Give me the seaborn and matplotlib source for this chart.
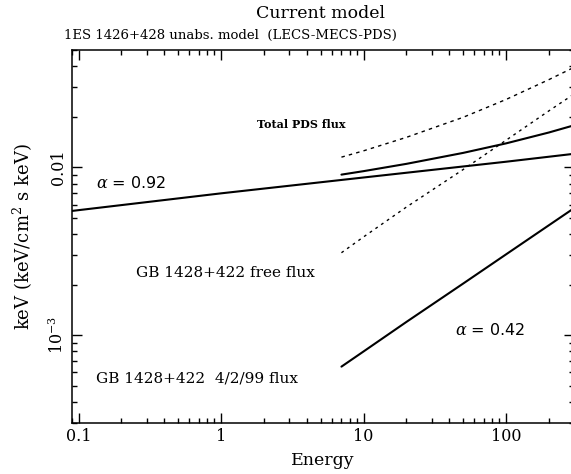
import matplotlib
matplotlib.use("Agg")
import matplotlib.pyplot as plt
import matplotlib.ticker as mticker
import seaborn as sns

# energies (keV) and fluxes
e_soft = [0.09, 1, 10, 100, 290]
flux_soft = [0.0055, 0.0070, 0.0087, 0.0108, 0.0120]          # alpha = 0.92

e_pds = [7, 10, 20, 50, 100, 200, 290]
flux_gb_obs = [0.00065, 0.00080, 0.0012, 0.00203, 0.00303, 0.00452, 0.0056]   # 4/2/99
flux_gb_free = [0.0031, 0.00385, 0.0058, 0.0097, 0.0145, 0.0217, 0.0268]
flux_tot_obs = [0.00905, 0.00949, 0.01049, 0.01219, 0.01389, 0.01613, 0.01765]
flux_tot_free = [0.0115, 0.01254, 0.01509, 0.01986, 0.02536, 0.03331, 0.03885]

sns.set_style("ticks")
plt.rcParams['font.family'] = ['DejaVu Serif']
plt.rcParams['mathtext.fontset'] = 'dejavuserif'
plt.rcParams['text.color'] = 'k'
plt.rcParams['axes.labelcolor'] = 'k'
plt.rcParams['xtick.color'] = 'k'
plt.rcParams['ytick.color'] = 'k'
plt.rcParams['axes.edgecolor'] = 'k'

fig = plt.figure(figsize=(5.71, 4.74), dpi=100)
ax = fig.add_axes([72 / 571, 1 - 423 / 474, 502 / 571, 373 / 474])

sns.lineplot(x=e_soft, y=flux_soft, ax=ax, color='k', lw=1.5)
sns.lineplot(x=e_pds, y=flux_gb_obs, ax=ax, color='k', lw=1.5)
sns.lineplot(x=e_pds, y=flux_tot_obs, ax=ax, color='k', lw=1.5)
sns.lineplot(x=e_pds, y=flux_gb_free, ax=ax, color='k', lw=1.0, linestyle=(0, (2, 3)))
sns.lineplot(x=e_pds, y=flux_tot_free, ax=ax, color='k', lw=1.0, linestyle=(0, (2.5, 3)))

ax.set_xscale('log')
ax.set_yscale('log')
ax.set_xlim(0.09, 300)
ax.set_ylim(3.0e-4, 0.05)

ax.xaxis.set_major_locator(mticker.FixedLocator([0.1, 1, 10, 100]))
ax.xaxis.set_major_formatter(mticker.FixedFormatter(['0.1', '1', '10', '100']))
ax.yaxis.set_major_locator(mticker.FixedLocator([1e-3, 1e-2]))
ax.yaxis.set_major_formatter(mticker.FixedFormatter([r'$10^{-3}$', '0.01']))
ax.xaxis.set_minor_locator(mticker.LogLocator(base=10, subs=range(2, 10), numticks=20))
ax.yaxis.set_minor_locator(mticker.LogLocator(base=10, subs=range(2, 10), numticks=20))
ax.xaxis.set_minor_formatter(mticker.NullFormatter())
ax.yaxis.set_minor_formatter(mticker.NullFormatter())

ax.tick_params(which='both', direction='in', top=True, right=True, width=1.0, labelsize=11.5)
ax.tick_params(which='major', length=7)
ax.tick_params(which='minor', length=3.5)
for lab in ax.get_yticklabels():
    lab.set_rotation(90)
    lab.set_va('center')
for sp in ax.spines.values():
    sp.set_linewidth(1.1)

ax.set_xlabel('Energy', fontsize=12.5, labelpad=5)
ax.set_ylabel(r'keV (keV/cm$^2$ s keV)', fontsize=13, labelpad=10)

fig.text(320 / 571, 1 - 13 / 474, 'Current model', fontsize=12.5, ha='center', va='center')
fig.text(64 / 571, 1 - 35 / 474, '1ES 1426+428 unabs. model  (LECS-MECS-PDS)',
         fontsize=9.5, ha='left', va='center')

def label(px, py, s, **kw):
    fig.text(px / 571, 1 - py / 474, s, ha='left', va='center', **kw)

label(257, 124, 'Total PDS flux', fontsize=8, fontweight='bold')
label(96, 183, r'$\alpha$ = 0.92', fontsize=11.5, family=['DejaVu Sans'])
label(455, 330, r'$\alpha$ = 0.42', fontsize=11.5, family=['DejaVu Sans'])
label(136, 273, 'GB 1428+422 free flux', fontsize=11)
label(96, 378, 'GB 1428+422  4/2/99 flux', fontsize=11)

fig.savefig('out.png', dpi=100)
